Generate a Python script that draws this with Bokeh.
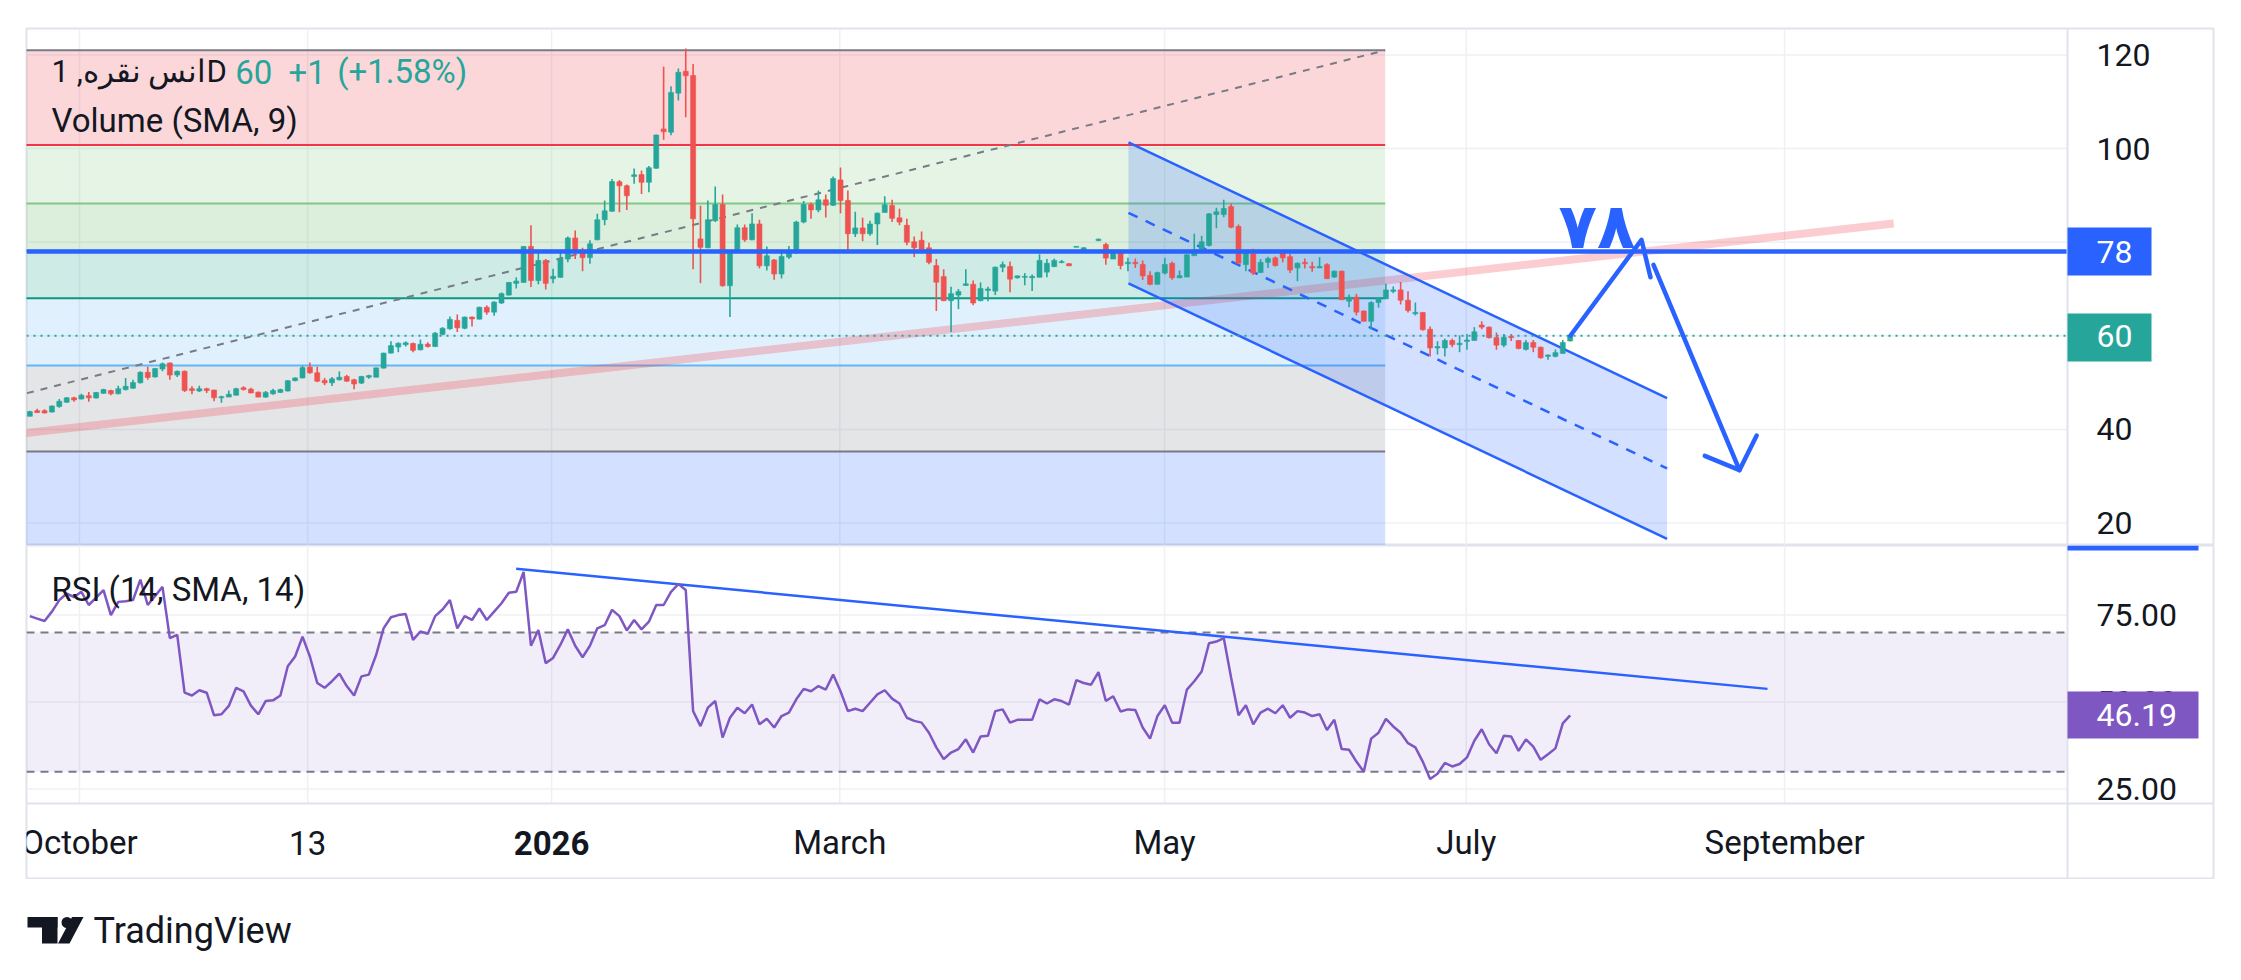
from bokeh.plotting import figure
from bokeh.models import Range1d, ColumnDataSource
from bokeh.layouts import column
from bokeh.core.properties import value
from bokeh.embed import file_html
from bokeh.resources import INLINE

# ---------------- data ----------------
opens = [42.8, 44.0, 44.0, 43.7, 44.9, 45.8, 46.75, 46.5, 47.2, 46.7,
         47.7, 48.3, 47.6, 48.5, 48.8, 49.95, 52.2, 51.2, 52.9, 54.2,
         51.6, 52.4, 48.7, 48.2, 48.7, 48.4, 46.75, 46.9, 47.3, 48.9,
         48.6, 47.95, 46.9, 47.6, 47.9, 48.2, 50.4, 51.0, 53.3, 52.1,
         50.45, 49.95, 50.6, 51.3, 50.6, 49.9, 51.15, 51.15, 53.1, 56.3,
         57.6, 58.1, 58.35, 57.0, 58.2, 57.7, 60.3, 61.5, 63.3, 61.6,
         64.0, 63.55, 66.1, 65.05, 67.0, 68.7, 71.2, 71.4, 79.1, 71.8,
         76.1, 72.2, 72.5, 76.4, 80.9, 78.2, 76.7, 80.5, 84.8, 86.6,
         92.9, 92.05, 94.05, 94.45, 92.8, 95.8, 104.2, 103.5, 111.85, 116.5,
         115.6, 80.7, 78.8, 84.6, 88.05, 70.7, 78.4, 83.1, 80.5, 83.9,
         74.95, 76.2, 73.2, 76.8, 78.1, 84.3, 88.05, 86.9, 89.05, 87.9,
         93.3, 88.9, 81.8, 83.05, 81.8, 83.9, 86.35, 87.85, 85.2, 83.6,
         80.1, 80.4, 78.8, 75.0, 72.65, 67.5, 68.7, 70.75, 71.0, 67.5,
         69.7, 69.55, 74.65, 74.8, 72.4, 72.5, 72.4, 72.5, 73.6, 74.8,
         75.65, 75.4, 78.9, 78.4, 77.9, 80.35, 79.5, 76.4, 78.2, 75.4,
         75.7, 75.25, 72.9, 71.0, 73.4, 75.5, 72.4, 72.55, 77.1, 77.9,
         79.3, 85.9, 85.9, 87.6, 83.35, 75.2, 77.5, 73.5, 75.7, 76.65,
         77.9, 76.9, 74.5, 75.7, 74.8, 74.5, 75.2, 72.55, 73.8, 67.4,
         68.25, 65.3, 63.1, 67.1, 67.9, 69.5, 69.8, 67.6, 64.7, 65.0,
         61.4, 57.4, 57.4, 59.0, 58.1, 58.8, 59.0, 62.3, 61.85, 59.6,
         58.0, 59.85, 59.0, 57.1, 58.55, 57.55, 55.6, 55.6, 56.25, 58.9]
highs = [44.0, 44.4, 44.3, 45.1, 46.5, 46.9, 47.0, 47.6, 48.0, 48.0,
         48.7, 48.45, 49.3, 51.0, 50.6, 52.4, 53.4, 53.1, 54.3, 54.3,
         52.6, 52.6, 49.2, 49.3, 48.9, 48.45, 47.2, 48.3, 48.9, 49.2,
         48.9, 48.1, 48.2, 48.7, 48.7, 50.5, 51.1, 53.6, 54.3, 53.4,
         51.0, 51.2, 52.4, 51.65, 50.8, 51.45, 51.7, 53.2, 56.4, 58.85,
         58.6, 58.8, 58.55, 59.2, 58.6, 60.8, 61.85, 64.1, 64.55, 64.1,
         64.1, 66.2, 66.5, 67.4, 69.25, 71.5, 72.5, 79.2, 83.6, 77.8,
         76.4, 74.3, 77.8, 81.2, 82.5, 78.8, 80.4, 86.1, 88.9, 93.5,
         93.3, 92.3, 95.75, 95.3, 96.3, 103.0, 117.5, 113.3, 117.1, 121.4,
         118.1, 87.8, 88.9, 91.9, 90.2, 78.1, 83.8, 83.8, 86.2, 84.8,
         79.1, 76.4, 78.2, 79.2, 84.6, 88.8, 88.5, 91.05, 90.2, 94.05,
         95.95, 91.05, 86.5, 85.2, 84.6, 86.35, 89.8, 89.05, 87.15, 85.0,
         81.2, 82.3, 79.9, 76.4, 74.2, 70.5, 70.0, 74.2, 71.8, 71.4,
         70.5, 74.8, 75.85, 75.85, 72.9, 73.4, 73.1, 77.4, 76.4, 76.5,
         76.2, 75.5, 79.2, 78.9, 78.3, 80.8, 79.9, 78.4, 78.35, 76.65,
         76.5, 76.1, 73.8, 73.7, 76.65, 75.9, 73.95, 77.4, 81.8, 81.4,
         86.2, 87.35, 89.05, 88.2, 83.8, 78.1, 78.6, 76.4, 76.9, 76.95,
         78.2, 77.5, 75.7, 76.5, 75.8, 76.8, 75.5, 73.95, 73.95, 68.8,
         68.95, 65.4, 67.4, 68.25, 71.1, 70.55, 71.5, 69.5, 67.1, 65.0,
         62.0, 58.85, 59.35, 59.4, 60.1, 60.4, 61.85, 63.1, 62.0, 60.7,
         60.4, 60.4, 59.1, 59.1, 59.1, 57.7, 56.0, 57.1, 59.1, 60.2]
lows = [42.8, 43.5, 43.4, 43.6, 44.6, 45.7, 45.9, 46.4, 45.9, 46.6,
        47.6, 47.3, 47.5, 48.3, 48.7, 49.8, 50.6, 51.1, 52.4, 50.6,
        51.2, 48.0, 47.5, 48.0, 47.8, 46.0, 45.7, 46.9, 47.3, 48.3,
        47.7, 46.9, 46.75, 47.4, 47.8, 48.1, 50.3, 50.9, 51.9, 50.1,
        49.45, 49.25, 50.45, 50.15, 48.6, 49.7, 50.8, 51.1, 53.0, 56.2,
        56.5, 57.7, 56.5, 56.9, 57.5, 57.6, 60.1, 61.3, 60.8, 61.4,
        62.0, 63.5, 64.5, 64.3, 66.8, 68.6, 70.1, 71.3, 70.4, 71.0,
        69.9, 71.2, 72.4, 75.7, 76.4, 73.8, 75.4, 80.4, 83.6, 86.5,
        86.4, 86.9, 92.5, 90.3, 90.65, 95.7, 101.9, 102.85, 110.3, 106.7,
        74.2, 71.25, 78.7, 84.3, 70.5, 64.0, 78.2, 80.1, 80.4, 74.4,
        73.95, 71.95, 72.25, 76.4, 77.5, 84.05, 85.0, 86.4, 85.3, 87.75,
        86.2, 77.8, 81.1, 80.2, 81.4, 79.4, 86.3, 84.3, 83.6, 79.35,
        76.8, 78.1, 75.3, 65.3, 67.4, 60.8, 65.7, 70.7, 66.5, 67.4,
        67.4, 68.7, 73.6, 69.3, 72.2, 70.8, 69.55, 72.5, 72.5, 74.65,
        75.5, 74.9, 78.9, 78.3, 77.8, 80.2, 75.2, 76.4, 74.2, 73.8,
        74.5, 71.95, 70.8, 71.0, 73.1, 72.0, 72.3, 72.55, 77.1, 77.9,
        79.1, 83.0, 85.35, 83.0, 75.5, 73.8, 73.0, 73.5, 74.5, 74.8,
        75.7, 73.4, 71.65, 74.4, 73.7, 74.5, 72.2, 72.35, 67.7, 66.1,
        64.35, 63.1, 61.4, 66.0, 67.9, 69.1, 66.7, 65.0, 64.35, 61.1,
        55.6, 56.0, 55.6, 57.55, 56.5, 57.0, 59.0, 61.4, 59.4, 57.0,
        57.55, 58.9, 57.1, 56.85, 56.5, 55.1, 54.9, 55.4, 56.1, 58.8]
closes = [43.8, 43.6, 43.5, 45.0, 46.0, 46.75, 46.3, 47.3, 46.75, 47.9,
          48.5, 47.6, 48.7, 49.2, 50.0, 52.2, 51.1, 53.0, 54.0, 51.6,
          52.4, 48.3, 48.3, 48.7, 48.3, 46.75, 47.0, 47.5, 48.7, 48.5,
          47.8, 46.9, 47.9, 48.3, 48.5, 50.4, 51.0, 53.2, 52.1, 50.3,
          49.95, 50.8, 51.15, 50.3, 49.7, 51.3, 51.5, 53.15, 56.3, 57.9,
          58.4, 58.5, 56.9, 58.2, 57.7, 60.55, 61.6, 63.5, 61.7, 64.0,
          63.6, 66.1, 65.05, 67.2, 69.0, 71.4, 71.7, 79.1, 71.8, 76.1,
          71.2, 72.7, 76.4, 80.9, 77.9, 76.7, 79.65, 84.8, 86.7, 92.95,
          92.05, 89.9, 94.4, 92.8, 95.9, 102.9, 103.6, 112.0, 116.3, 115.55,
          85.0, 78.9, 84.8, 88.05, 70.7, 77.8, 83.1, 80.5, 83.9, 74.95,
          77.1, 73.2, 76.95, 78.2, 84.3, 88.05, 86.9, 89.05, 87.9, 93.6,
          88.9, 81.8, 83.05, 81.8, 83.9, 86.2, 88.0, 85.1, 84.3, 80.0,
          78.8, 78.4, 75.7, 71.45, 67.5, 69.0, 69.45, 71.1, 67.0, 70.1,
          70.0, 74.65, 75.2, 72.1, 72.8, 72.7, 72.7, 76.1, 75.5, 76.1,
          75.85, 74.95, 79.1, 78.8, 78.2, 80.65, 76.6, 77.65, 75.0, 75.7,
          75.4, 72.8, 71.0, 73.5, 75.25, 72.4, 72.85, 77.3, 78.4, 80.1,
          86.05, 86.5, 87.2, 83.2, 75.5, 77.65, 73.4, 75.7, 76.5, 75.0,
          76.65, 74.05, 75.5, 75.4, 74.5, 74.8, 72.2, 73.8, 67.7, 68.25,
          65.05, 63.1, 67.1, 68.1, 69.8, 69.8, 67.6, 65.4, 65.0, 61.3,
          57.4, 57.7, 59.0, 58.1, 58.4, 59.1, 60.85, 61.85, 59.6, 58.0,
          59.7, 59.6, 57.3, 58.55, 57.55, 55.3, 55.9, 56.4, 58.55, 60.0]
rsi = [74.7, 74.0, 73.3, 76.0, 79.3, 81.2, 80.2, 81.7, 77.9, 80.0,
       82.2, 75.0, 78.8, 79.0, 79.3, 85.2, 77.9, 80.5, 83.1, 68.4,
       69.3, 52.7, 51.9, 53.4, 52.7, 46.2, 46.5, 48.9, 54.1, 53.1,
       49.0, 46.5, 50.3, 50.5, 51.9, 60.3, 63.1, 68.8, 63.1, 55.5,
       54.1, 56.0, 58.2, 54.6, 51.9, 57.4, 57.9, 63.6, 71.2, 74.4,
       75.0, 75.3, 67.9, 70.3, 69.6, 74.7, 76.6, 79.3, 71.2, 74.7,
       73.6, 76.9, 73.6, 76.0, 78.4, 81.4, 81.7, 87.4, 66.2, 70.7,
       61.2, 62.7, 66.5, 70.9, 66.2, 62.9, 66.2, 71.2, 72.1, 76.5,
       74.7, 70.6, 73.6, 70.9, 73.1, 77.9, 77.9, 81.7, 83.9, 82.2,
       47.4, 43.1, 48.4, 50.3, 39.8, 45.5, 48.4, 46.8, 49.3, 43.6,
       45.2, 42.7, 46.0, 47.0, 50.8, 53.8, 53.1, 54.6, 53.6, 57.9,
       53.1, 47.4, 48.1, 47.4, 49.8, 52.2, 53.4, 51.0, 49.6, 45.5,
       44.6, 44.1, 41.2, 37.0, 33.6, 35.5, 36.5, 39.3, 35.5, 40.1,
       40.3, 47.4, 47.9, 44.1, 44.9, 44.9, 44.9, 50.8, 49.6, 50.8,
       50.3, 49.3, 56.3, 55.5, 55.0, 58.6, 50.3, 51.7, 47.3, 47.9,
       47.7, 42.7, 39.5, 46.0, 49.1, 44.1, 44.1, 53.6, 56.0, 58.8,
       66.9, 67.4, 68.4, 57.0, 46.2, 49.1, 43.6, 47.0, 48.1, 46.8,
       49.1, 45.5, 47.4, 47.0, 46.0, 46.5, 42.0, 44.9, 36.5, 36.3,
       32.9, 30.0, 39.5, 41.2, 45.2, 43.0, 41.2, 38.2, 37.0, 32.9,
       27.9, 29.4, 32.5, 31.5, 32.2, 34.1, 38.9, 42.2, 37.9, 35.3,
       40.3, 40.1, 36.0, 39.3, 37.2, 33.4, 35.0, 36.7, 43.9, 46.19]

time_ticks = [6.74, 37.7, 70.8, 109.9, 153.97, 194.9, 238.1]   # bar index
time_labels = ["October", "13", "2026", "March", "May", "July", "September"]
price_ticks = [20, 40, 60, 80, 100, 120]
rsi_ticks = [25, 50, 75]
rsi_bands = [30, 70]

fib_x = [-31.7, 183.9]
fib_high, fib_low = 121.0, 35.3
fib_ratios = [0, 0.236, 0.382, 0.5, 0.618, 0.786, 1, 1.618]
fib_colors = ["#787b86", "#f23645", "#81c784", "#4caf50", "#089981",
              "#64b5f6", "#787b86", "#2962ff"]

level_line = 78
last_price = 60
last_rsi = 46.19
title_text = "\u2067انس نقره, 1\u2069D"
change_texts = ["60", "+1", "(+1.58%)"]

pink_x = [-4.0, 252.9]
pink_y = [38.6, 84.0]
chan_x = [149.07, 222.15]
chan_top = [101.35, 46.7]
chan_bot = [71.2, 16.6]
rsi_trend_x = [65.99, 235.78]
rsi_trend_y = [88.3, 53.8]
arrow_up_x = [209.05, 218.68, 219.9]
arrow_up_y = [60.06, 80.51, 72.5]
arrow_dn_x = [220.31, 231.98]
arrow_dn_y = [75.17, 31.3]
arrow_head_x = [227.27, 231.98, 234.31]
arrow_head_y = [34.34, 31.3, 38.7]
note_text = "۷۸"
note_x, note_y = 212.64, 83.4

# ---------------- layout helpers ----------------
LEFT = 26          # frame left edge on the page
TOP = 28           # main pane top edge on the page
FRAME_W = 2187
W = LEFT + FRAME_W + 2
PX = 7.37
X0 = -0.45
X1 = X0 + FRAME_W / PX


def kx(px):
    return X0 + (px - LEFT) / PX


K_AX = kx(2067)
K_TXT = kx(2096)
K_BOX = kx(2151)
K_BOX2 = kx(2198)

YM_TOP, YM_BOT = 125.66, 15.19
MAIN_H = 517


def vm(py):
    return YM_TOP - (py - TOP) * (YM_TOP - YM_BOT) / MAIN_H


YR_TOP, YR_BOT = 95.0, -0.98
RSI_H = 334


def vr(py):
    return YR_TOP - (py - 545) * (YR_TOP - YR_BOT) / RSI_H


UP, DOWN = "#26a69a", "#ef5350"
BLUE = "#2962ff"
PURPLE = "#7e57c2"
GRID = "#eef0f4"
BORDER = "#e0e3eb"
TXT = "#131722"
FONT = value("Roboto")


def make_fig(height, y_range, top_border, x_range=None):
    f = figure(width=W, height=height,
               x_range=x_range if x_range is not None else Range1d(X0, X1),
               y_range=y_range, output_backend="svg", toolbar_location=None,
               x_axis_location=None, y_axis_location=None,
               min_border_left=LEFT, min_border_right=2,
               min_border_top=top_border, min_border_bottom=0,
               outline_line_color=BORDER, outline_line_width=2,
               background_fill_color="white", border_fill_color="white")
    f.grid.visible = False
    return f


def label_box(f, y_top, y_bot, right, color, txt, y_txt):
    f.quad(left=[K_AX], right=[right], top=[y_top], bottom=[y_bot],
           fill_color=color, line_color=None)
    f.text(x=[K_TXT], y=[y_txt], text=[txt], text_color="white",
           text_font=FONT, text_font_size=value("32px"),
           text_baseline="middle", text_align="left")


# ---------------- main pane ----------------
p = make_fig(TOP + MAIN_H, Range1d(YM_BOT, YM_TOP), TOP)

# grid
p.segment(x0=X0, x1=K_AX, y0=price_ticks, y1=price_ticks, line_color=GRID, line_width=1.5)
p.segment(x0=time_ticks, x1=time_ticks, y0=YM_BOT, y1=YM_TOP, line_color=GRID, line_width=1.5)

# fibonacci retracement
span = fib_high - fib_low
levels = [fib_high - r * span for r in fib_ratios]
for i in range(len(levels) - 1):
    p.quad(left=[fib_x[0]], right=[fib_x[1]], top=[levels[i]], bottom=[levels[i + 1]],
           fill_color=fib_colors[i + 1], fill_alpha=0.2, line_color=None)
for i in range(len(levels) - 1):
    p.segment(x0=[fib_x[0]], x1=[fib_x[1]], y0=[levels[i]], y1=[levels[i]],
              line_color=fib_colors[i], line_width=2)
p.line(fib_x, [fib_low, fib_high], line_color="#787b86", line_width=2, line_dash="7 7")

# long pink trend line
p.line(pink_x, pink_y, line_color="#f23645", line_alpha=0.25, line_width=8)

# descending channel
p.patch([chan_x[0], chan_x[1], chan_x[1], chan_x[0]],
        [chan_top[0], chan_top[1], chan_bot[1], chan_bot[0]],
        fill_color=BLUE, fill_alpha=0.2, line_color=None)
p.line(chan_x, chan_top, line_color=BLUE, line_width=2.5)
p.line(chan_x, chan_bot, line_color=BLUE, line_width=2.5)
p.line(chan_x, [(a + b) / 2 for a, b in zip(chan_top, chan_bot)],
       line_color=BLUE, line_width=2.5, line_dash="10 9")

# candles
idx = list(range(len(closes)))
src = ColumnDataSource(dict(
    x=idx, h=highs, l=lows,
    top=[max(o, c) for o, c in zip(opens, closes)],
    bot=[min(o, c) for o, c in zip(opens, closes)],
    col=[UP if c >= o else DOWN for o, c in zip(opens, closes)]))
p.segment(x0="x", x1="x", y0="l", y1="h", line_color="col", line_width=1.6, source=src)
p.vbar(x="x", width=0.68, top="top", bottom="bot", fill_color="col",
       line_color="col", line_width=0.6, source=src)

# horizontal 78 line and last price line
p.segment(x0=[X0], x1=[K_AX], y0=[level_line], y1=[level_line], line_color=BLUE, line_width=4.5)
p.segment(x0=[X0], x1=[K_AX], y0=[last_price], y1=[last_price],
          line_color=UP, line_width=2, line_dash="2 5")

# hand-drawn arrow and note
for xs, ys in ((arrow_up_x, arrow_up_y), (arrow_dn_x, arrow_dn_y), (arrow_head_x, arrow_head_y)):
    p.line(xs, ys, line_color=BLUE, line_width=4.5, line_join="round", line_cap="round")
p.text(x=[note_x], y=[note_y], text=[note_text], text_color=BLUE,
       text_font=value("DejaVu Sans"), text_font_style="bold",
       text_font_size=value("63px"), text_align="center", text_baseline="middle")

# price axis
p.segment(x0=[K_AX], x1=[K_AX], y0=[YM_BOT], y1=[YM_TOP], line_color=BORDER, line_width=2)
p.text(x=K_TXT, y=price_ticks, text=[str(t) for t in price_ticks], text_color=TXT,
       text_font=FONT, text_font_size=value("32px"), text_baseline="middle", text_align="left")
label_box(p, vm(227), vm(275), K_BOX, BLUE, str(level_line), level_line)
label_box(p, vm(313), vm(361), K_BOX, UP, str(last_price), last_price)

# legend
p.text(x=[kx(51)], y=[vm(71)], text=[title_text], text_color=TXT, text_font=FONT,
       text_font_size=value("31px"), text_baseline="middle", text_align="left")
p.text(x=[kx(234.7), kx(288), kx(336.7)], y=[vm(71)] * 3, text=change_texts, text_color=UP,
       text_font=FONT, text_font_size=value("33px"), text_baseline="middle", text_align="left")
p.text(x=[kx(51)], y=[vm(119.6)], text=["Volume (SMA, 9)"], text_color=TXT, text_font=FONT,
       text_font_size=value("33px"), text_baseline="middle", text_align="left")

# ---------------- RSI pane ----------------
r = make_fig(RSI_H, Range1d(YR_BOT, YR_TOP), 0, x_range=p.x_range)
T_SEP = vr(803)
r.segment(x0=X0, x1=K_AX, y0=rsi_ticks, y1=rsi_ticks, line_color=GRID, line_width=1.5)
r.segment(x0=time_ticks, x1=time_ticks, y0=T_SEP, y1=YR_TOP, line_color=GRID, line_width=1.5)
r.quad(left=[X0], right=[K_AX], top=[rsi_bands[1]], bottom=[rsi_bands[0]],
       fill_color=PURPLE, fill_alpha=0.1, line_color=None)
r.segment(x0=X0, x1=K_AX, y0=rsi_bands, y1=rsi_bands, line_color="#787b86",
          line_width=2, line_dash="8 6")
r.line(rsi_trend_x, rsi_trend_y, line_color=BLUE, line_width=2.5)
r.line(idx, rsi, line_color=PURPLE, line_width=2.5)
r.text(x=[kx(51)], y=[vr(589)], text=["RSI (14, SMA, 14)"], text_color=TXT, text_font=FONT,
       text_font_size=value("33px"), text_baseline="middle", text_align="left")

# separators
r.segment(x0=[X0], x1=[X1], y0=[T_SEP], y1=[T_SEP], line_color=BORDER, line_width=2)
r.segment(x0=[K_AX], x1=[K_AX], y0=[YR_BOT], y1=[YR_TOP], line_color=BORDER, line_width=2)

# rsi axis
r.text(x=K_TXT, y=rsi_ticks, text=["%.2f" % t for t in rsi_ticks], text_color=TXT,
       text_font=FONT, text_font_size=value("32px"), text_baseline="middle", text_align="left")
label_box(r, vr(691), vr(738), K_BOX2, PURPLE, "%.2f" % last_rsi, vr(714.5))
r.quad(left=[K_AX], right=[K_BOX2], top=[YR_TOP], bottom=[vr(550)], fill_color=BLUE, line_color=None)

# time axis labels
T_Y = vr(842)
normal = [i for i, t in enumerate(time_labels) if t != "2026"]
r.text(x=[time_ticks[i] for i in normal], y=[T_Y] * len(normal),
       text=[time_labels[i] for i in normal], text_color=TXT, text_font=FONT,
       text_font_size=value("33px"), text_baseline="middle", text_align="center")
bold = [i for i, t in enumerate(time_labels) if t == "2026"]
r.text(x=[time_ticks[i] for i in bold], y=[T_Y] * len(bold),
       text=[time_labels[i] for i in bold], text_color=TXT, text_font=FONT,
       text_font_style="bold", text_font_size=value("33px"),
       text_baseline="middle", text_align="center")

# ---------------- TradingView logo ----------------
lg = figure(width=LEFT + 402, height=90, x_range=Range1d(0, 400), y_range=Range1d(90, 0),
            output_backend="svg", toolbar_location=None, x_axis_location=None,
            y_axis_location=None, min_border_left=LEFT, min_border_right=2,
            min_border_top=0, min_border_bottom=0, outline_line_color=None,
            background_fill_color="white", border_fill_color="white")
lg.grid.visible = False
lg.quad(left=[1, 15.5], right=[31, 31], top=[37.5, 37.5], bottom=[48, 64],
        fill_color=TXT, line_color=None)
lg.circle(x=[40.5], y=[43], radius=5.5, fill_color=TXT, line_color=None)
lg.patch([45.5, 57, 43, 31.5], [37.5, 37.5, 64, 64], fill_color=TXT, line_color=None)
lg.text(x=[67], y=[51], text=["TradingView"], text_color=TXT, text_font=FONT,
        text_font_size=value("36px"), text_baseline="middle", text_align="left")

layout = column(p, r, lg)
open("out.html", "w").write(file_html(layout, INLINE))
